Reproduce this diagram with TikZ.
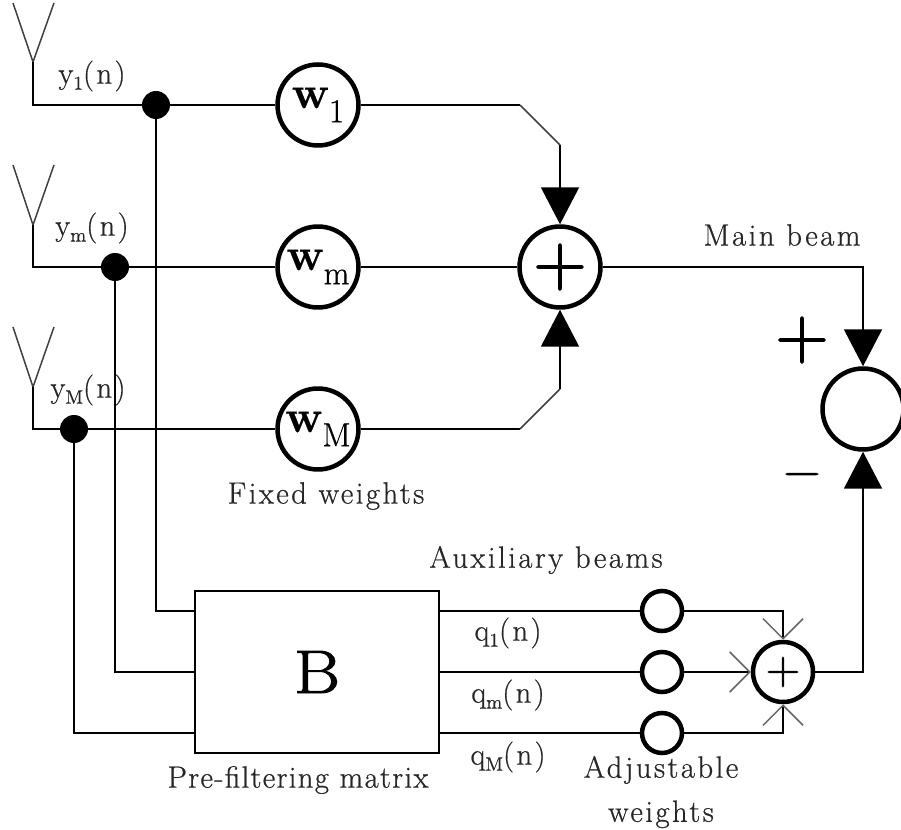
\documentclass[tikz,border=0pt]{standalone}
\usepackage{fontspec}
\setmainfont{Latin Modern Roman}[LetterSpace=8,FakeBold=.6]
\newfontfamily\bigfont{Latin Modern Roman}[FakeBold=1.5]
\usetikzlibrary{arrows.meta}
\tikzset{
  wire/.style={line width=.04cm},
  thin wire/.style={line width=.03cm,black!75},
  solid arrow/.style={wire,-{Triangle[length=.74cm,width=.76cm]}},
  open arrow/.style={wire,-{Straight Barb[length=.4cm,width=.8cm,line width=.03cm,black!60]}},
  big circle/.style={circle,draw,line width=.09cm,minimum size=1.62cm,inner sep=0pt,fill=white},
  small circle/.style={circle,draw,line width=.09cm,minimum size=.8cm,inner sep=0pt,fill=white},
  mid circle/.style={circle,draw,line width=.09cm,minimum size=1.2cm,inner sep=0pt,fill=white},
  dot/.style={circle,fill=black,minimum size=.56cm,inner sep=0pt},
  matrix box/.style={rectangle,draw,line width=.05cm,minimum width=4.88cm,minimum height=3.24cm,fill=white},
  lab/.style={font=\fontsize{17.5}{20}\selectfont,text=black!85,inner sep=0pt},
}
\newcommand{\wlab}[1]{\fontsize{26}{26}\selectfont\bfseries\addfontfeature{LetterSpace=0}w\raisebox{-.7ex}{\mdseries\fontsize{19}{19}\selectfont #1}}
\newcommand{\sigsub}[2]{#1{\raisebox{-.45ex}{\fontsize{11}{11}\selectfont #2}}(n)}
\begin{document}
\begin{tikzpicture}[x=.02cm,y=-.02cm]
\useasboundingbox (0,0) rectangle (901,830);
% antennas
\coordinate (a1) at (33,62);
\coordinate (am) at (33,225);
\coordinate (aM) at (33,387);
\draw [thin wire] (13,3) -- (a1) -- (54,3);
\draw [thin wire] (13,165) -- (am) -- (54,165);
\draw [thin wire] (13,327) -- (aM) -- (54,327);
% weights and summers
\node [dot] (d1) at (156,105) {};
\node [dot] (dm) at (115,267) {};
\node [dot] (dM) at (74,429) {};
\node [big circle] (w1) at (318,105) {\wlab{1}};
\node [big circle] (wm) at (318,267) {\wlab{m}};
\node [big circle] (wM) at (318,429) {\wlab{M}};
\node [big circle,font=\bigfont\fontsize{42}{42}\selectfont] (sum) at (560,267) {+};
\node [big circle] (diff) at (863,409) {};
\node [matrix box,font=\bigfont\addfontfeature{FakeStretch=1.15}\fontsize{35}{35}\selectfont] (B) at (317,672) {B};
\node [small circle] (q1) at (662,611) {};
\node [small circle] (qm) at (662,672) {};
\node [small circle] (qM) at (662,733) {};
\node [mid circle,font=\bigfont\fontsize{27}{27}\selectfont] (aux) at (783,672) {+};
% bends
\coordinate (b1) at (520,105);
\coordinate (b2) at (560,145);
\coordinate (b3) at (520,429);
\coordinate (b4) at (560,389);
\coordinate (p1) at (195,611);
\coordinate (pm) at (195,672);
\coordinate (pM) at (195,733);
\coordinate (r1) at (439,611);
\coordinate (rm) at (439,672);
\coordinate (rM) at (439,733);
% wires
\draw [wire] (a1) |- (d1) -- (w1);
\draw [wire] (am) |- (dm) -- (wm);
\draw [wire] (aM) |- (dM) -- (wM);
\draw [wire] (d1) |- (p1);
\draw [wire] (dm) |- (pm);
\draw [wire] (dM) |- (pM);
\draw [wire] (wm) -- (sum);
\draw [wire] (w1) -- (b1);
\draw [wire] (wM) -- (b3);
\draw [thin wire] (b1) -- (b2);
\draw [thin wire] (b3) -- (b4);
\draw [solid arrow] (b2) -- (sum);
\draw [solid arrow] (b4) -- (sum);
\draw [solid arrow] (sum) -| (diff);
\draw [solid arrow] (aux) -| (diff);
\draw [wire] (r1) -- (q1);
\draw [wire] (rm) -- (qm);
\draw [wire] (rM) -- (qM);
\draw [open arrow] (q1) -| (aux);
\draw [open arrow] (qm) -- (aux);
\draw [open arrow] (qM) -| (aux);
% labels
\node [lab] (ly1) at (92,76) {\sigsub{y}{1}};
\node [lab] (lym) at (92,228) {\sigsub{y}{m}};
\node [lab] (lyM) at (88,390) {\sigsub{y}{M}};
\node [lab] (lq1) at (508,633) {\sigsub{q}{1}};
\node [lab] (lqm) at (508,695) {\sigsub{q}{m}};
\node [lab] (lqM) at (508,757) {\sigsub{q}{M}};
\node [lab] (lmain) at (782,235) {Main beam};
\node [lab] (lfix) at (326,496) {Fixed weights};
\node [lab] (laux) at (546,560) {Auxiliary beams};
\node [lab,font=\fontsize{17.5}{20}\selectfont\addfontfeature{LetterSpace=4.3}] (lpre) at (298,780) {Pre-filtering matrix};
\node [lab,align=center] (ladj) at (661,792) {Adjustable\\[.18cm]weights};
\node [inner sep=0pt,font=\bigfont\fontsize{42}{42}\selectfont] (lplus) at (802,340) {+};
\node [inner sep=0pt,font=\bigfont\fontsize{29}{29}\selectfont] (lminus) at (802,480) {\char"2212};
\end{tikzpicture}
\end{document}
